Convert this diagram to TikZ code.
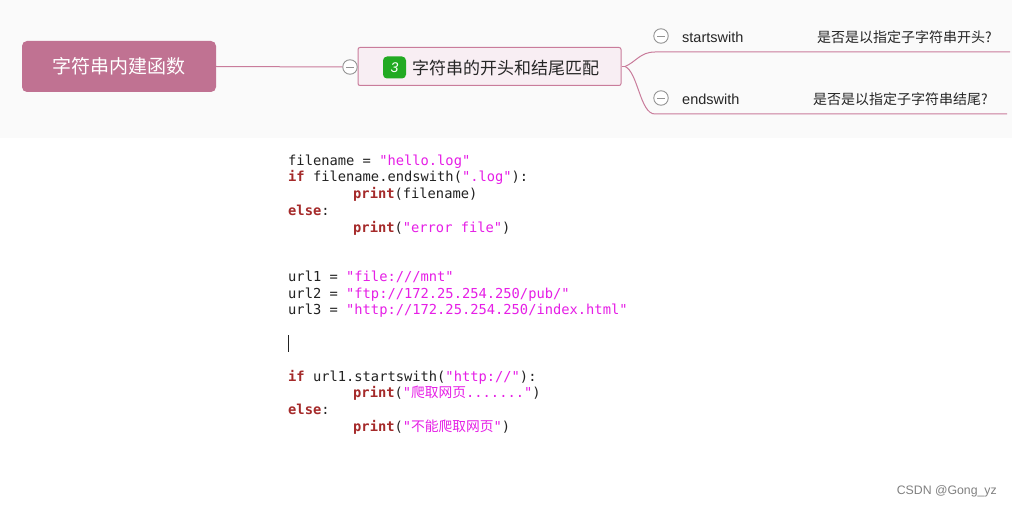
\documentclass[tikz,border=0pt]{standalone}
\usepackage{fontspec}
\setmainfont{Liberation Sans}
\setmonofont{DejaVu Sans Mono}
\newfontfamily\cjk{Noto Sans CJK SC}
\definecolor{bandgrey}{HTML}{FAFAFA}
\definecolor{rootfill}{HTML}{C07292}
\definecolor{linkpink}{HTML}{C97C9B}
\definecolor{subfill}{HTML}{F8EEF3}
\definecolor{kwred}{HTML}{A52A2A}
\definecolor{strmag}{HTML}{E61EE6}
\definecolor{codeblack}{HTML}{222222}
\definecolor{badgegreen}{HTML}{22AA22}
\newcommand{\kw}[1]{\textcolor{kwred}{\textbf{#1}}}
\newcommand{\str}[1]{\textcolor{strmag}{#1}}
\begin{document}
\begin{tikzpicture}[x=1pt,y=-1pt,
  codeline/.style={anchor=base west,inner sep=0pt,font=\ttfamily\fontsize{13.75}{16}\selectfont,text=codeblack},
  foldmark/.style={circle,draw=gray!85,fill=white,line width=0.9pt,minimum size=14.5pt,inner sep=0pt,
    path picture={\draw[gray!85,line width=0.9pt] ([xshift=-4pt]path picture bounding box.center) -- ([xshift=4pt]path picture bounding box.center);}},
  link/.style={draw=linkpink,line width=1pt},
  leaflabel/.style={anchor=west,inner sep=0pt,font=\fontsize{14.5}{17}\selectfont,text=black!85},
  leafnote/.style={anchor=west,inner sep=0pt,font=\cjk\fontsize{14}{17}\selectfont,text=black!85}]
\useasboundingbox (0,0) rectangle (1012,508);
\fill[white] (0,0) rectangle (1012,508);
\fill[bandgrey] (0,0) rectangle (1012,138);

% root
\node[draw=none,fill=rootfill,rounded corners=5pt,minimum width=194pt,minimum height=51pt,inner sep=0pt,
  text=white,font=\cjk\fontsize{19}{22}\selectfont] (root) at (119,66.5) {字符串内建函数};
% sub node
\node[draw=linkpink,fill=subfill,rounded corners=2pt,line width=1pt,minimum width=263pt,minimum height=38pt,inner sep=0pt] (sub) at (489.5,66.5) {};
\node[fill=badgegreen,rounded corners=4pt,minimum width=23pt,minimum height=22pt,inner sep=0pt,
  text=white,font=\itshape\fontsize{14}{14}\selectfont] (badge) at (394.5,67.5) {3};
\node[anchor=west,inner sep=0pt,font=\cjk\fontsize{17}{20}\selectfont,text=black!85] (subtext) at (412,68) {字符串的开头和结尾匹配};
\node[foldmark] (fold0) at (350,67) {};
\draw[link] (root.east) -- (fold0.west);

% branches
\coordinate (j) at (625,66.5);
\coordinate (up) at (655,52);
\coordinate (upend) at (1010,52);
\coordinate (dn) at (655,114);
\coordinate (dnend) at (1007,114);
\draw[link] (sub.east) -- (j);
\draw[link] (j) .. controls (636,62) and (640,52) .. (up) -- (upend);
\draw[link] (j) .. controls (638,72) and (640,114) .. (dn) -- (dnend);

\node[foldmark] (fold1) at (661,36) {};
\node[foldmark] (fold2) at (661,98) {};
\node[leaflabel] (l1) at (682,37) {startswith};
\node[leaflabel] (l2) at (682,99) {endswith};
\node[leafnote] (n1) at (817,37) {是否是以指定子字符串开头?};
\node[leafnote] (n2) at (813,99) {是否是以指定子字符串结尾?};

% code
\node[codeline] (c1) at (288,165) {filename = \str{"hello.log"}};
\node[codeline] (c2) at (288,182) {\kw{if} filename.endswith(\str{".log"}):};
\node[codeline] (c3) at (353,198.5) {\kw{print}(filename)};
\node[codeline] (c4) at (288,215) {\kw{else}:};
\node[codeline] (c5) at (353,232) {\kw{print}(\str{"error file"})};
\node[codeline] (c6) at (288,281.5) {url1 = \str{"file:///mnt"}};
\node[codeline] (c7) at (288,298) {url2 = \str{"ftp://172.25.254.250/pub/"}};
\node[codeline] (c8) at (288,314.5) {url3 = \str{"http://172.25.254.250/index.html"}};
\draw[codeblack,line width=0.8pt] (288,335) -- (288,352);
\node[codeline] (c9) at (288,381) {\kw{if} url1.startswith(\str{"http://"}):};
\node[codeline] (c10) at (353,397.5) {\kw{print}(\str{"{\cjk 爬取网页}......."})};
\node[codeline] (c11) at (288,414) {\kw{else}:};
\node[codeline] (c12) at (353,431.5) {\kw{print}(\str{"{\cjk 不能爬取网页}"})};

\node[anchor=east,inner sep=0pt,font=\fontsize{12.3}{14}\selectfont,text=gray] (wm) at (997,491.5) {CSDN @Gong\_yz};
\end{tikzpicture}
\end{document}
